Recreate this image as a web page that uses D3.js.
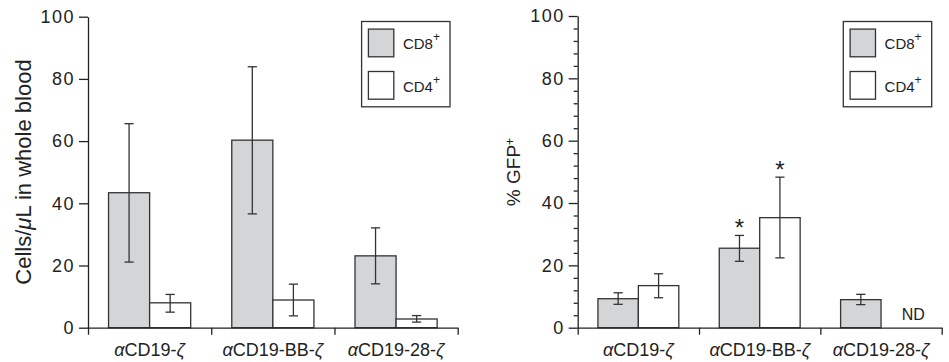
<!DOCTYPE html>
<html lang="en">
<head>
  <meta charset="UTF-8">
  <title>CAR T cells in blood</title>
  <script src="https://d3js.org/d3.v7.min.js"></script>
  <style>
    body {
      margin: 0;
      background: #fff;
      font-family: "Liberation Sans", Arial, sans-serif;
    }
    svg text {
      fill: #222;
    }
    .axis path, .axis line {
      stroke: #222;
      stroke-width: 1.3px;
    }
    .axis text {
      font-size: 18px;
      letter-spacing: 1.5px;
      fill: #222;
    }
    .bar {
      stroke: #333;
      stroke-width: 1.3px;
    }
    .err {
      stroke: #333;
      stroke-width: 1.3px;
      fill: none;
    }
  </style>
</head>
<body>
  <svg width="949" height="362"></svg>

  <script>
    // data
    const categories = ['\u03b1CD19-\u03b6', '\u03b1CD19-BB-\u03b6', '\u03b1CD19-28-\u03b6'];
    const seriesNames = ['CD8', 'CD4'];
    const yTicks = [0, 20, 40, 60, 80, 100];

    // left panel: cells / uL in whole blood
    const bloodCD8 = [43.4, 60.3, 23.1];
    const bloodCD8Lo = [21.1, 36.6, 14.1];
    const bloodCD8Hi = [65.6, 83.9, 32.1];
    const bloodCD4 = [8.0, 8.9, 2.8];
    const bloodCD4Lo = [5.0, 3.8, 1.8];
    const bloodCD4Hi = [10.7, 14.0, 3.9];

    // right panel: % GFP+
    const gfpCD8 = [9.3, 25.5, 9.0];
    const gfpCD8Lo = [7.5, 21.3, 7.4];
    const gfpCD8Hi = [11.2, 29.6, 10.7];
    const gfpCD4 = [13.5, 35.3, null];   // null = ND
    const gfpCD4Lo = [9.6, 22.4, null];
    const gfpCD4Hi = [17.3, 48.3, null];
    const gfpStars = [[1, 'CD8'], [1, 'CD4']];

    const colors = { CD8: '#d4d5d7', CD4: '#ffffff' };

    const svg = d3.select('svg');

    function rows(vals, lo, hi, name) {
      return vals.map((v, i) => ({ cat: categories[i], series: name, value: v, lo: lo[i], hi: hi[i] }));
    }

    function drawPanel(opts) {
      const { left, right, top, bottom, data, minor, title, titleX, titleY, legendRight } = opts;
      const g = svg.append('g');

      const y = d3.scaleLinear().domain([0, 100]).range([bottom, top]);
      const x0 = d3.scaleBand().domain(categories).range([left, right]).padding(0);
      const x1 = d3.scaleBand().domain(seriesNames).range([0, x0.bandwidth()])
        .paddingInner(0).paddingOuter(0.5);

      // bars
      const shown = data.filter(d => d.value !== null);
      g.selectAll('.bar')
        .data(shown)
        .enter()
        .append('rect')
        .attr('class', 'bar')
        .attr('x', d => x0(d.cat) + x1(d.series))
        .attr('y', d => y(d.value))
        .attr('width', x1.bandwidth())
        .attr('height', d => y(0) - y(d.value))
        .attr('fill', d => colors[d.series]);

      // error bars
      const cap = 4.6;
      const eb = g.selectAll('.eb')
        .data(shown)
        .enter()
        .append('g')
        .attr('class', 'eb')
        .attr('transform', d => `translate(${x0(d.cat) + x1(d.series) + x1.bandwidth() / 2},0)`);
      eb.append('line').attr('class', 'err')
        .attr('y1', d => y(d.lo)).attr('y2', d => y(d.hi));
      eb.append('line').attr('class', 'err')
        .attr('x1', -cap).attr('x2', cap)
        .attr('y1', d => y(d.hi)).attr('y2', d => y(d.hi));
      eb.append('line').attr('class', 'err')
        .attr('x1', -cap).attr('x2', cap)
        .attr('y1', d => y(d.lo)).attr('y2', d => y(d.lo));

      // y axis
      if (minor) {
        const minorVals = d3.range(0, 101, 4).filter(v => v % 20 !== 0);
        g.append('g')
          .attr('class', 'axis')
          .attr('transform', `translate(${left},0)`)
          .call(d3.axisLeft(y).tickValues(minorVals).tickSize(4).tickSizeOuter(0).tickFormat(''))
          .call(a => a.select('.domain').remove());
      }
      g.append('g')
        .attr('class', 'axis')
        .attr('transform', `translate(${left},0)`)
        .call(d3.axisLeft(y).tickValues(yTicks).tickSize(9).tickSizeOuter(0).tickPadding(4));

      // x axis: ticks at group boundaries
      const xb = d3.scaleLinear().domain([0, categories.length]).range([left, right]);
      g.append('g')
        .attr('class', 'axis')
        .attr('transform', `translate(0,${bottom})`)
        .call(d3.axisBottom(xb).tickValues(d3.range(categories.length + 1)).tickSize(7).tickSizeOuter(0).tickFormat(''));

      // category labels with italic greek letters
      const lab = g.selectAll('.xlab')
        .data(categories)
        .enter()
        .append('text')
        .attr('class', 'xlab')
        .attr('x', d => x0(d) + x0.bandwidth() / 2)
        .attr('y', bottom + 28.5)
        .attr('text-anchor', 'middle')
        .style('font-size', '18px');
      lab.append('tspan').style('font-style', 'italic').text(d => d[0]);
      lab.append('tspan').text(d => d.slice(1, -1));
      lab.append('tspan').style('font-style', 'italic').text(d => d.slice(-1));

      // y title
      const t = g.append('text')
        .attr('transform', `translate(${titleX},${titleY}) rotate(-90)`)
        .attr('text-anchor', 'middle')
        .attr('dy', '0.35em')
        .style('font-size', title.size + 'px');
      title.parts.forEach(p => {
        const s = t.append('tspan').text(p.text);
        if (p.italic) s.style('font-style', 'italic');
        if (p.sup) s.attr('dy', '-0.5em').style('font-size', '12px');
      });

      // legend
      const lw = 88.4, lh = 85.3;
      const lx = right - legendRight - lw, ly = 21.5;
      const lg = g.append('g').attr('transform', `translate(${lx},${ly})`);
      lg.append('rect')
        .attr('width', lw).attr('height', lh)
        .attr('fill', '#fff').attr('stroke', '#333').attr('stroke-width', 1.3);
      const item = lg.selectAll('.li')
        .data(seriesNames)
        .enter()
        .append('g')
        .attr('transform', (d, i) => `translate(6.8,${7.6 + i * 42.4})`);
      item.append('rect')
        .attr('class', 'bar')
        .attr('width', 25.4).attr('height', 27.7)
        .attr('fill', d => colors[d]);
      const lt = item.append('text')
        .attr('x', 34.5).attr('y', 20)
        .style('font-size', '15px');
      lt.append('tspan').text(d => d);
      lt.append('tspan').attr('dy', '-8').style('font-size', '12px').text('+');

      return { g, x0, x1, y };
    }

    drawPanel({
      left: 88, right: 457.7, top: 16.7, bottom: 327.7,
      data: rows(bloodCD8, bloodCD8Lo, bloodCD8Hi, 'CD8').concat(rows(bloodCD4, bloodCD4Lo, bloodCD4Hi, 'CD4')),
      minor: false,
      title: { size: 22, parts: [{ text: 'Cells/' }, { text: '\u03bc', italic: true }, { text: 'L in whole blood' }] },
      titleX: 23, titleY: 172,
      legendRight: 7.7
    });

    const right = drawPanel({
      left: 577.7, right: 941.7, top: 16, bottom: 327.7,
      data: rows(gfpCD8, gfpCD8Lo, gfpCD8Hi, 'CD8').concat(rows(gfpCD4, gfpCD4Lo, gfpCD4Hi, 'CD4')),
      minor: true,
      title: { size: 19, parts: [{ text: '% GFP' }, { text: '+', sup: true }] },
      titleX: 513, titleY: 172,
      legendRight: 10
    });

    // significance stars
    right.g.selectAll('.star')
      .data(gfpStars)
      .enter()
      .append('text')
      .attr('x', d => right.x0(categories[d[0]]) + right.x1(d[1]) + right.x1.bandwidth() / 2)
      .attr('y', d => right.y(d[1] === 'CD8' ? gfpCD8Hi[d[0]] : gfpCD4Hi[d[0]]) + 1)
      .attr('text-anchor', 'middle')
      .style('font-size', '24px')
      .text('*');

    // not determined label
    gfpCD4.forEach((v, i) => {
      if (v !== null) return;
      right.g.append('text')
        .attr('x', right.x0(categories[i]) + right.x1('CD4') + right.x1.bandwidth() / 2 + 12)
        .attr('y', right.y(0) - 8)
        .attr('text-anchor', 'middle')
        .style('font-size', '16px')
        .text('ND');
    });
  </script>
</body>
</html>
